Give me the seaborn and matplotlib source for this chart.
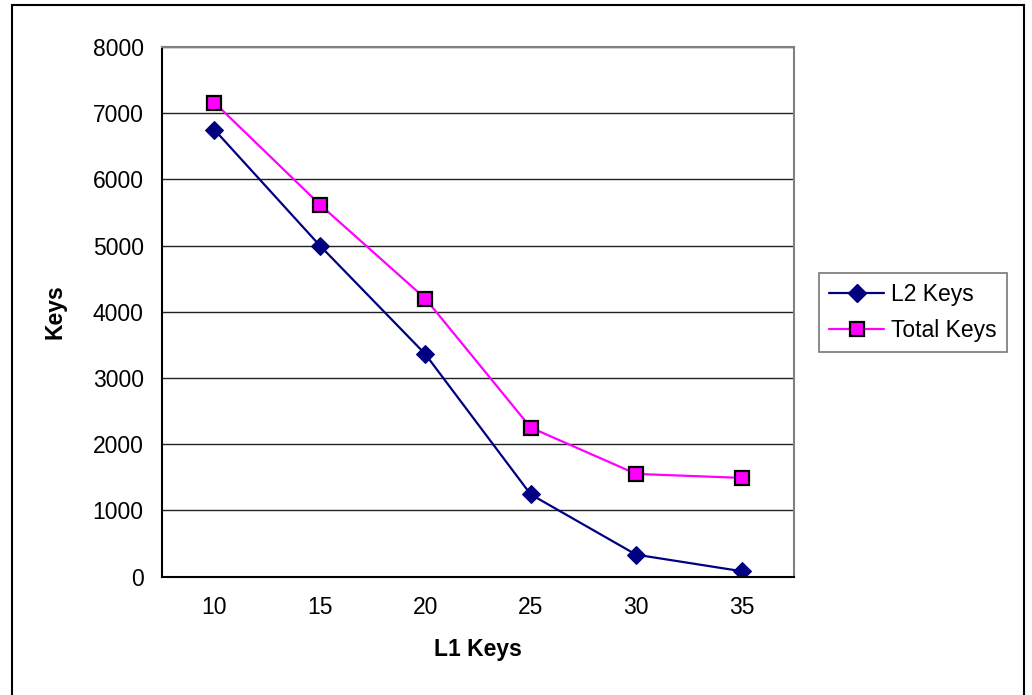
import numpy as np
import pandas as pd
import seaborn as sns
import matplotlib.pyplot as plt
from matplotlib.patches import Rectangle

# datos
l1_keys = ["10", "15", "20", "25", "30", "35"]
l2_keys = [6750, 5000, 3360, 1240, 330, 80]
total_keys = [7160, 5620, 4200, 2250, 1550, 1490]

df = pd.DataFrame({
    "pos": list(range(len(l1_keys))) * 2,
    "Keys": l2_keys + total_keys,
    "serie": ["L2 Keys"] * len(l1_keys) + ["Total Keys"] * len(l1_keys),
})

sns.set_style("white")
plt.rcParams["font.family"] = ["Liberation Sans", "DejaVu Sans"]
plt.rcParams["text.color"] = "black"
plt.rcParams["axes.labelcolor"] = "black"
plt.rcParams["xtick.color"] = "black"
plt.rcParams["ytick.color"] = "black"

fs = 16.5

fig = plt.figure(figsize=(10.32, 6.95), dpi=100)
ax = fig.add_axes([161.7 / 1032, 1 - 576.5 / 695, (794.3 - 161.7) / 1032, (576.5 - 47) / 695])

sns.lineplot(data=df, x="pos", y="Keys", hue="serie", style="serie",
             palette={"L2 Keys": "#000080", "Total Keys": "#FF00FF"},
             markers={"L2 Keys": "D", "Total Keys": "s"}, dashes=False,
             linewidth=1.6, ax=ax, legend=False)

# marcadores al estilo excel
lines = ax.get_lines()
lines[0].set_markersize(9)
lines[0].set_markeredgecolor("#000080")
lines[1].set_markersize(10)
lines[1].set_markeredgecolor("black")
lines[1].set_markeredgewidth(1.6)

ax.set_xlim(-0.5, len(l1_keys) - 0.5)
ax.set_ylim(0, 8000)
ax.set_yticks(np.arange(0, 8001, 1000))
ax.set_xticks(np.arange(-0.5, len(l1_keys), 1))
ax.set_xticklabels([])
ax.set_xticks(range(len(l1_keys)), minor=True)
ax.set_xticklabels(l1_keys, minor=True)
ax.tick_params(axis="x", which="minor", length=0, pad=14, labelsize=fs)
ax.tick_params(axis="x", which="major", length=5, width=1, color="black", direction="out")
ax.tick_params(axis="y", length=5, width=1, color="black", direction="out", labelsize=fs, pad=8)
ax.yaxis.grid(True, color="#222222", linewidth=1)
ax.set_axisbelow(True)

for s in ["left", "bottom"]:
    ax.spines[s].set_color("black")
    ax.spines[s].set_linewidth(1.5)
for s in ["top", "right"]:
    ax.spines[s].set_color("#808080")
    ax.spines[s].set_linewidth(1.5)

ax.set_xlabel("L1 Keys", fontsize=fs, fontweight="bold", labelpad=14)
ax.set_ylabel("Keys", fontsize=fs, fontweight="bold", labelpad=19)

handles = [
    plt.Line2D([], [], color="#000080", marker="D", markersize=9, linewidth=1.6),
    plt.Line2D([], [], color="#FF00FF", marker="s", markersize=10, markeredgecolor="black",
               markeredgewidth=1.6, linewidth=1.6),
]
leg = fig.legend(handles, ["L2 Keys", "Total Keys"], loc="upper left",
                 bbox_to_anchor=(819 / 1032, 1 - 273 / 695), fontsize=fs,
                 frameon=True, fancybox=False, edgecolor="#555555", handlelength=2.4,
                 borderaxespad=0, borderpad=0.45, labelspacing=0.55, handletextpad=0.3)
leg.get_frame().set_linewidth(1.2)

# marco del grafico
fig.patches.append(Rectangle((12 / 1032, -10 / 695), 1012 / 1032, 700 / 695,
                             transform=fig.transFigure, fill=False, edgecolor="black",
                             linewidth=1.5))

fig.savefig("out.png", dpi=100)
